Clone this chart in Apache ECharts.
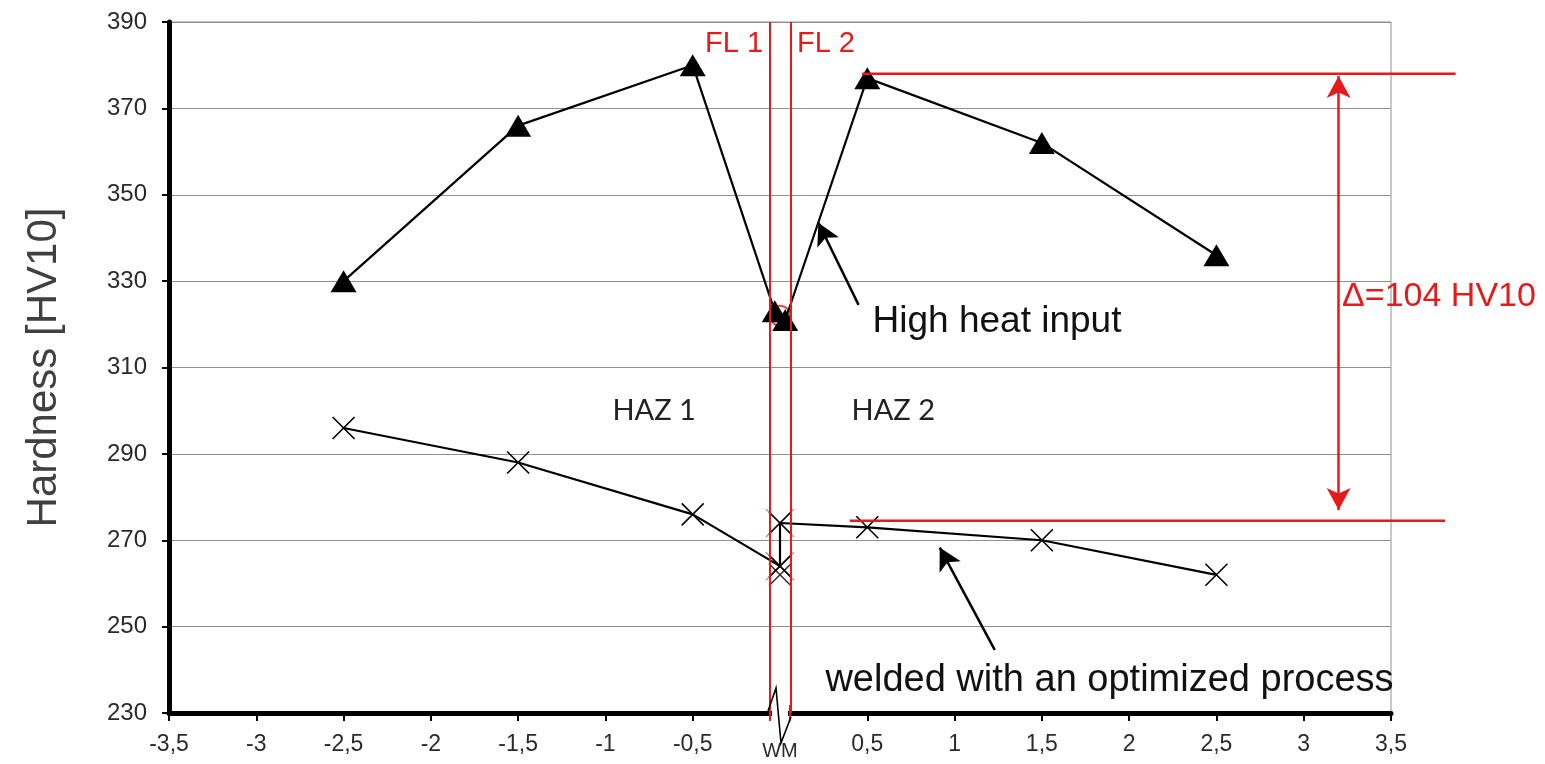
<!DOCTYPE html>
<html>
<head>
<meta charset="utf-8">
<title>Hardness HV10</title>
<script src="https://cdn.jsdelivr.net/npm/echarts@6/dist/echarts.min.js"></script>
<style>
html, body {margin: 0; padding: 0; background: #fff;}
#main {width: 1545px; height: 764px;}
</style>
</head>
<body>
<div id="main"></div>
<script>
// 数据
var highX = [-2.5, -1.5, -0.5, -0.03, 0.03, 0.5, 1.5, 2.5];
var highHV = [330, 366, 380, 323, 321, 377, 362, 336];
var optX = [-2.5, -1.5, -0.5, 0, 0, 0.5, 1.5, 2.5];
var optHV = [296, 288, 276, 264, 274, 273, 270, 262];
var wmExtraX = [0];
var wmExtraHV = [262];
var flX = [-0.057, 0.057];
var flNames = ['FL 1', 'FL 2'];
var yTicks = {min: 230, max: 390, step: 20};
var xTicks = {min: -3.5, max: 3.5, step: 0.5};
var deltaHV = [378, 274.5];        // red reference levels
var deltaFrom = [0.47, 0.4];       // where each red level line starts
var deltaTo = [3.87, 3.81];        // where it ends (past the plot edge)
var deltaArrow = {x: 3.2, top: 377.5, bottom: 277};
var deltaText = 'Δ=104 HV10';

function pairs(xs, ys) {
    var out = [];
    for (var i = 0; i < xs.length; i++) out.push([xs[i], ys[i]]);
    return out;
}

var xPath = 'path://M0,0L20,20M20,0L0,20';
var FONT = 'Liberation Sans, Arial, sans-serif';
var red = '#e41b1b';

var chart = document.getElementById('main');
var myChart = echarts.init(chart);

var option = {
    animation: false,
    backgroundColor: '#fff',
    grid: {left: 169, right: 154, top: 22, bottom: 51, show: true, borderColor: '#8f8f8f', borderWidth: 1},
    xAxis: {
        type: 'value',
        min: xTicks.min,
        max: xTicks.max,
        interval: xTicks.step,
        axisLine: {onZero: false, lineStyle: {color: '#000', width: 5}},
        axisTick: {show: true, length: 8, lineStyle: {color: '#000', width: 2}},
        splitLine: {show: false},
        axisLabel: {
            margin: 20,
            color: '#2a2a2a',
            fontFamily: FONT,
            fontSize: 23,
            formatter: function (v) {
                if (Math.abs(v) < 1e-9) return '{wm|WM}';
                return String(v).replace('.', ',');
            },
            rich: {wm: {fontFamily: FONT, fontSize: 20, color: '#2a2a2a', padding: [8, 0, 0, 0]}}
        }
    },
    yAxis: {
        type: 'value',
        min: yTicks.min,
        max: yTicks.max,
        interval: yTicks.step,
        name: 'Hardness [HV10]',
        nameLocation: 'middle',
        nameGap: 104,
        nameTextStyle: {color: '#404040', fontFamily: FONT, fontSize: 42},
        axisLine: {show: true, onZero: false, lineStyle: {color: '#000', width: 5}},
        axisTick: {show: true, length: 7, lineStyle: {color: '#000', width: 2}},
        splitLine: {show: true, lineStyle: {color: '#8f8f8f', width: 1.2}},
        axisLabel: {margin: 22, color: '#2a2a2a', fontFamily: FONT, fontSize: 24}
    },
    series: [
        {
            // red ring behind the WM triangles
            name: 'wmRing',
            type: 'scatter',
            z: 2,
            symbol: 'circle',
            symbolSize: 20,
            itemStyle: {color: 'rgba(0,0,0,0)', borderColor: red, borderWidth: 2},
            data: [[0, 322]]
        },
        {
            name: 'wmRedX',
            type: 'scatter',
            z: 2,
            symbol: xPath,
            symbolSize: 28,
            itemStyle: {color: 'rgba(0,0,0,0)', borderColor: 'rgba(200,40,40,0.7)', borderWidth: 1.5},
            data: pairs([0, 0], [274, 264])
        },
        {
            name: 'High heat input',
            type: 'line',
            z: 4,
            symbol: 'triangle',
            symbolSize: [26, 22],
            itemStyle: {color: '#000'},
            lineStyle: {color: '#000', width: 2.2},
            data: pairs(highX, highHV),
            markLine: {
                silent: true,
                symbol: 'none',
                label: {show: false},
                lineStyle: {color: red, width: 2, type: 'solid'},
                data: [{xAxis: flX[0]}, {xAxis: flX[1]}]
            }
        },
        {
            name: 'welded with an optimized process',
            type: 'line',
            z: 4,
            symbol: xPath,
            symbolSize: 22,
            itemStyle: {color: 'rgba(0,0,0,0)', borderColor: '#000', borderWidth: 1.6},
            lineStyle: {color: '#000', width: 2.2},
            data: pairs(optX, optHV),
            markLine: {
                silent: true,
                label: {show: false},
                symbol: ['none', 'arrow'],
                symbolSize: [18, 22],
                lineStyle: {color: '#000', width: 2.5, type: 'solid'},
                data: [
                    [{coord: [0.45, 324.5]}, {coord: [0.22, 343.5]}],
                    [{coord: [1.23, 244.6]}, {coord: [0.915, 268.3]}],
                    [
                        {coord: [deltaArrow.x, deltaArrow.bottom], symbol: 'arrow', lineStyle: {color: red}},
                        {coord: [deltaArrow.x, deltaArrow.top], symbol: 'arrow', lineStyle: {color: red}}
                    ]
                ]
            }
        },
        {
            name: 'wmExtra',
            type: 'scatter',
            z: 4,
            symbol: xPath,
            symbolSize: 22,
            itemStyle: {color: 'rgba(0,0,0,0)', borderColor: '#000', borderWidth: 1.6},
            data: pairs(wmExtraX, wmExtraHV)
        }
    ]
};
myChart.setOption(option);

// 注释 (texts, red level lines, axis break) placed through the chart's own scales
function px(x, y) {
    return myChart.convertToPixel({gridIndex: 0}, [x, y]);
}
function drawNotes() {
    var g = [];
    var axisBottom = px(0, yTicks.min);
    var l = px(flX[0], yTicks.min), r = px(flX[1], yTicks.min);

    // gap in the x axis at WM with the break mark
    g.push({type: 'rect', z: 100, shape: {x: l[0] + 2, y: axisBottom[1] - 4, width: r[0] - l[0] - 4, height: 14}, style: {fill: '#fff'}});
    var c = axisBottom[0], b = axisBottom[1];
    g.push({type: 'polyline', z: 101, shape: {points: [[l[0] - 2, b - 2], [c - 4, b - 25], [c + 1, b + 30], [r[0] + 1, b + 4]]}, style: {stroke: '#000', lineWidth: 1.6, fill: null}});
    g.push({type: 'line', z: 100, shape: {x1: l[0], y1: b - 8, x2: l[0], y2: b + 8}, style: {stroke: red, lineWidth: 2}});
    g.push({type: 'line', z: 100, shape: {x1: r[0], y1: b - 8, x2: r[0], y2: b + 8}, style: {stroke: red, lineWidth: 2}});

    // red level lines (run past the plot edge)
    for (var i = 0; i < deltaHV.length; i++) {
        var a = px(deltaFrom[i], deltaHV[i]), e = px(deltaTo[i], deltaHV[i]);
        g.push({type: 'line', z: 90, shape: {x1: a[0], y1: a[1], x2: e[0], y2: e[1]}, style: {stroke: red, lineWidth: 2.5}});
    }

    // FL labels
    var f1 = px(flX[0], 385), f2 = px(flX[1], 385);
    g.push({type: 'text', z: 110, x: f1[0] - 7, y: f1[1], style: {text: flNames[0], fill: red, font: '29px ' + FONT, align: 'right', verticalAlign: 'middle'}});
    g.push({type: 'text', z: 110, x: f2[0] + 7, y: f2[1], style: {text: flNames[1], fill: red, font: '29px ' + FONT, align: 'left', verticalAlign: 'middle'}});

    // HAZ labels
    var h1 = px(-0.96, 300), h2 = px(0.41, 300);
    g.push({type: 'text', z: 110, x: h1[0], y: h1[1], style: {text: 'HAZ 1', fill: '#222', font: '29px Lato, Open Sans, sans-serif', verticalAlign: 'middle'}});
    g.push({type: 'text', z: 110, x: h2[0], y: h2[1], style: {text: 'HAZ 2', fill: '#222', font: '29px Lato, Open Sans, sans-serif', verticalAlign: 'middle'}});

    // series notes
    var t1 = px(0.53, 320.5);
    g.push({type: 'text', z: 110, x: t1[0], y: t1[1], style: {text: 'High heat input', fill: '#111', font: '37px ' + FONT, verticalAlign: 'middle'}});
    var t2 = px(0.26, 237.6);
    g.push({type: 'text', z: 110, x: t2[0], y: t2[1], style: {text: 'welded with an optimized process', fill: '#111', font: '38px ' + FONT, verticalAlign: 'middle'}});

    // delta label
    var d = px(3.22, 326.5);
    g.push({type: 'text', z: 110, x: d[0], y: d[1], style: {text: deltaText, fill: red, font: '34px ' + FONT, verticalAlign: 'middle'}});

    myChart.setOption({graphic: g});
}
drawNotes();
</script>
</body>
</html>
